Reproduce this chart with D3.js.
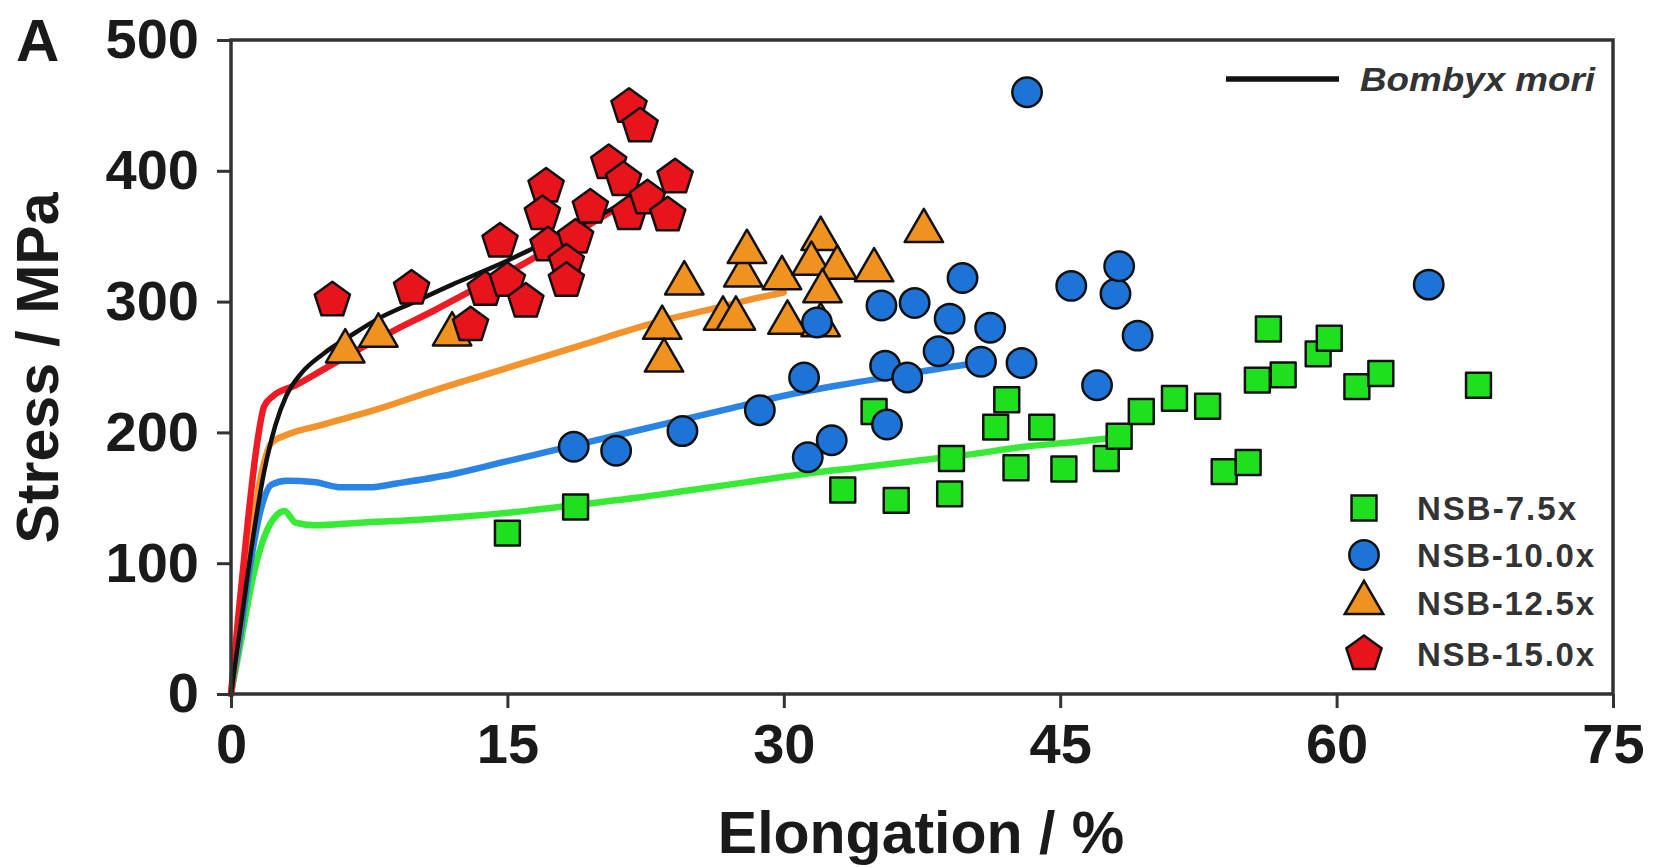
<!DOCTYPE html>
<html>
<head>
<meta charset="utf-8">
<script src="https://cdn.jsdelivr.net/npm/d3@7"></script>
<style>
  html, body { margin: 0; padding: 0; background: #fff; }
  svg { display: block; }
  text { font-family: "Liberation Sans", Arial, Helvetica, sans-serif; }
</style>
</head>
<body>
<svg id="chart" width="1660" height="867"></svg>
<script>
// ---------------- DATA ----------------
const xTicks = [0, 15, 30, 45, 60, 75];
const yTicks = [0, 100, 200, 300, 400, 500];
const xLabel = "Elongation / %";
const yLabel = "Stress / MPa";
const panelLabel = "A";
const seriesNames = ["NSB-7.5x", "NSB-10.0x", "NSB-12.5x", "NSB-15.0x"];
const refName = "Bombyx mori";

// scatter points [elongation %, stress MPa]
const nsb75 = [
  [15.0,123],[18.7,143],[34.9,216],[33.2,156],[36.1,148],[39.1,180],[39.0,153],
  [41.5,204],[42.1,225],[42.6,173],[44.0,204],[45.2,172],[47.5,180],[48.2,197],
  [49.4,216],[51.2,226],[53.0,220],[53.9,170],[55.2,177],[55.7,240],[57.1,244],
  [56.3,279],[59.0,260],[59.6,272],[61.1,235],[62.4,245],[67.7,236]
];
const nsb100 = [
  [18.6,189],[20.9,186],[24.5,201],[28.7,217],[31.1,242],[31.8,284],[31.3,181],
  [32.6,194],[35.6,206],[35.3,297],[35.5,251],[36.7,242],[37.1,299],[39.0,287],
  [38.4,262],[39.7,318],[41.2,280],[40.7,254],[42.9,253],[43.2,460],[45.6,312],
  [47.0,236],[49.2,274],[48.0,306],[48.2,327],[65.0,313]
];
const nsb125 = [
  [6.2,262],[8.0,274],[12.0,275],[23.4,280],[23.5,255],[24.6,314],[26.7,287],
  [27.4,287],[27.8,320],[28.0,338],[29.9,318],[30.2,284],[32.0,282],[32.0,348],
  [31.5,329],[32.9,326],[32.1,308],[34.9,324],[37.6,354]
];
const nsb150 = [
  [5.5,301],[9.8,310],[13.0,282],[14.6,346],[13.8,309],[15.0,316],[16.0,300],
  [17.1,388],[16.9,367],[17.2,343],[18.7,349],[18.2,330],[18.2,316],[19.5,372],
  [20.5,406],[21.3,393],[21.6,367],[22.6,379],[23.7,366],[24.1,395],[21.6,449],
  [22.2,434]
];

// stress-strain curves [elongation %, stress MPa]
const curve75 = [
  [0,0],[0.6,45],[1.2,90],[1.8,120],[2.5,137],[2.9,140],[3.5,131],[4.5,129],
  [7,131],[10,133],[13,136],[16,140],[19,145],[22,150],[25,156],[28,162],
  [31,168],[34,173],[37,178],[40,183],[43,189],[46,193],[48,196]
];
const curve100 = [
  [0,0],[0.5,45],[1.0,95],[1.6,140],[2.2,160],[3,163],[4.5,162],[6,158],
  [7.5,158],[9,161],[12,168],[15,178],[18,188],[21,198],[24,208],[27,218],
  [30,228],[33,236],[36,243],[39,250],[41,254]
];
const curve125 = [
  [0,0],[0.5,55],[1.0,110],[1.6,165],[2.2,192],[3,198],[5,206],[8,218],
  [11,232],[14,245],[17,258],[20,271],[23,284],[26,294],[28,301],[30,307]
];
const curve150 = [
  [0,0],[0.4,60],[0.9,130],[1.4,190],[1.8,220],[2.3,228],[3.5,236],[5,248],
  [7,264],[9,279],[11,293],[13,308],[15,322],[17,338],[19,355],[21,372]
];
const curveBombyx = [
  [0,0],[0.6,60],[1.2,120],[1.8,170],[2.4,205],[3.0,228],[3.8,245],[5,260],
  [6.5,274],[8,287],[10,300],[12,313],[14,325],[16,338],[18,352],[20,366],[22,380]
];

// ---------------- STYLE ----------------
const markerFill = { g: "#1fe01f", b: "#1d73d6", o: "#f0921f", r: "#e8141c" };
const lineColor = { g: "#36ea36", b: "#2a84e6", o: "#f4922c", r: "#ee1b24", k: "#111111" };

const W = 1660, H = 867;
const m = { left: 231, right: 1613, top: 40, bottom: 694 };

const svg = d3.select("#chart");
svg.append("rect").attr("width", W).attr("height", H).attr("fill", "#fff");

const x = d3.scaleLinear().domain([0, 75]).range([m.left, m.right]);
const y = d3.scaleLinear().domain([0, 500]).range([m.bottom, m.top]);

// ---------------- CURVES ----------------
const line = d3.line().x(d => x(d[0])).y(d => y(d[1])).curve(d3.curveMonotoneX);
const curves = [
  { d: curve75, c: lineColor.g, w: 6.5 },
  { d: curve100, c: lineColor.b, w: 6.5 },
  { d: curve125, c: lineColor.o, w: 6.5 },
  { d: curve150, c: lineColor.r, w: 6.5 },
  { d: curveBombyx, c: lineColor.k, w: 4.5 }
];
const gLines = svg.append("g");
curves.forEach(s => {
  gLines.append("path").datum(s.d)
    .attr("d", line)
    .attr("fill", "none")
    .attr("stroke", s.c)
    .attr("stroke-width", s.w)
    .attr("stroke-linejoin", "round")
    .attr("stroke-linecap", "round");
});

// ---------------- MARKERS ----------------
function pentagonPath(r) {
  const pts = d3.range(5).map(i => {
    const a = -Math.PI / 2 + i * 2 * Math.PI / 5;
    return [r * Math.cos(a), r * Math.sin(a)];
  });
  return "M" + pts.map(p => p.join(",")).join("L") + "Z";
}
const symSquare = d3.symbol().type(d3.symbolSquare).size(620)();
const symCircle = d3.symbol().type(d3.symbolCircle).size(680)();
const symTriangle = d3.symbol().type(d3.symbolTriangle).size(640)();
const symPentagon = pentagonPath(18.5);

function drawPoints(data, path, fill) {
  svg.append("g").selectAll("path").data(data).join("path")
    .attr("d", path)
    .attr("transform", d => `translate(${x(d[0])},${y(d[1])})`)
    .attr("fill", fill)
    .attr("stroke", "#111")
    .attr("stroke-width", 2.5)
    .attr("stroke-linejoin", "round");
}
drawPoints(nsb75, symSquare, markerFill.g);
drawPoints(nsb125, symTriangle, markerFill.o);
drawPoints(nsb100, symCircle, markerFill.b);
drawPoints(nsb150, symPentagon, markerFill.r);

// ---------------- AXES ----------------
const axisColor = "#333";
const yAxis = d3.axisLeft(y).tickValues(yTicks).tickSize(14).tickSizeOuter(0).tickPadding(18);
const xAxis = d3.axisBottom(x).tickValues(xTicks).tickSize(14).tickSizeOuter(0).tickPadding(15);

const gy = svg.append("g").attr("transform", `translate(${m.left},0)`).call(yAxis);
const gx = svg.append("g").attr("transform", `translate(0,${m.bottom})`).call(xAxis);
[gx, gy].forEach(g => {
  g.select(".domain").remove();
  g.selectAll(".tick line").attr("stroke", axisColor).attr("stroke-width", 3);
  g.selectAll(".tick text")
    .attr("fill", "#1a1a1a")
    .style("font-size", "56px")
    .style("font-weight", "bold");
});

// frame
svg.append("rect")
  .attr("x", m.left).attr("y", m.top)
  .attr("width", m.right - m.left).attr("height", m.bottom - m.top)
  .attr("fill", "none").attr("stroke", axisColor).attr("stroke-width", 3.5);

// ---------------- TITLES ----------------
svg.append("text")
  .attr("x", 16).attr("y", 61)
  .style("font-size", "60px").style("font-weight", "bold")
  .attr("fill", "#1a1a1a")
  .text(panelLabel);

svg.append("text")
  .attr("x", 921).attr("y", 853)
  .attr("text-anchor", "middle")
  .style("font-size", "59px").style("font-weight", "bold")
  .attr("fill", "#1a1a1a")
  .text(xLabel);

svg.append("text")
  .attr("transform", "translate(58,368) rotate(-90)")
  .attr("text-anchor", "middle")
  .style("font-size", "59px").style("font-weight", "bold")
  .attr("fill", "#1a1a1a")
  .text(yLabel);

// ---------------- LEGENDS ----------------
svg.append("line")
  .attr("x1", 1226).attr("x2", 1339).attr("y1", 79).attr("y2", 79)
  .attr("stroke", lineColor.k).attr("stroke-width", 5.5);
svg.append("text")
  .attr("x", 1360).attr("y", 91)
  .attr("textLength", 235).attr("lengthAdjust", "spacingAndGlyphs")
  .style("font-size", "34px").style("font-weight", "bold").style("font-style", "italic")
  .attr("fill", "#333")
  .text(refName);

const legendRows = [
  { name: seriesNames[0], sym: symSquare, fill: markerFill.g, y: 508, len: 159 },
  { name: seriesNames[1], sym: symCircle, fill: markerFill.b, y: 555, len: 177 },
  { name: seriesNames[2], sym: symTriangle, fill: markerFill.o, y: 603, len: 177 },
  { name: seriesNames[3], sym: symPentagon, fill: markerFill.r, y: 654, len: 177 }
];
const gLeg = svg.append("g");
legendRows.forEach(r => {
  gLeg.append("path")
    .attr("d", r.sym)
    .attr("transform", `translate(1364,${r.y})`)
    .attr("fill", r.fill).attr("stroke", "#111").attr("stroke-width", 2.5);
  gLeg.append("text")
    .attr("x", 1417).attr("y", r.y + 12)
    .attr("textLength", r.len).attr("lengthAdjust", "spacing")
    .style("font-size", "33px").style("font-weight", "bold")
    .attr("fill", "#333")
    .text(r.name);
});
</script>
</body>
</html>
